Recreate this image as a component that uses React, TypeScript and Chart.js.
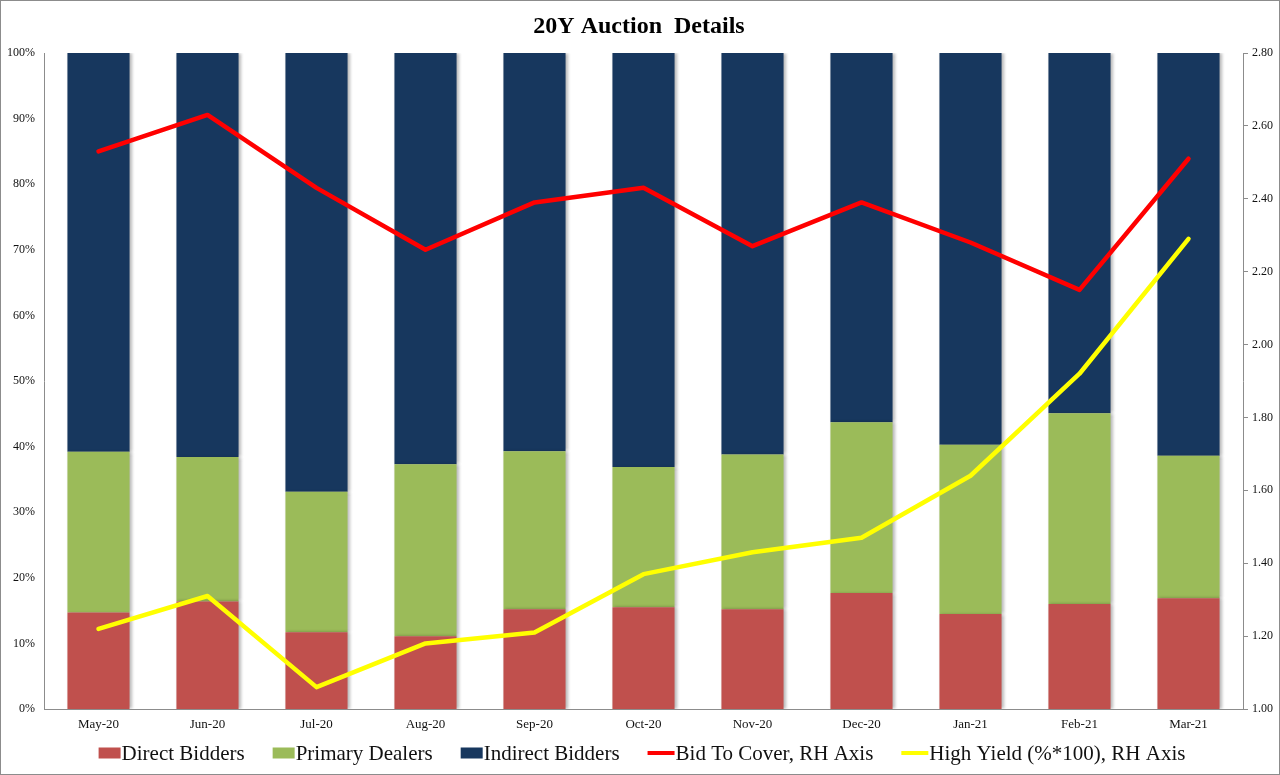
import { useRef, useEffect } from 'react';
import { Chart, registerables } from 'chart.js';

Chart.register(...registerables);

const categories = ['May-20', 'Jun-20', 'Jul-20', 'Aug-20', 'Sep-20', 'Oct-20', 'Nov-20', 'Dec-20', 'Jan-21', 'Feb-21', 'Mar-21'];

// share of the auction, %
const directBidders = [14.7, 16.4, 11.7, 11.1, 15.2, 15.5, 15.2, 17.7, 14.5, 16.0, 16.9];
const primaryDealers = [24.5, 22.0, 21.4, 26.2, 24.1, 21.4, 23.6, 26.0, 25.8, 29.1, 21.7];
const indirectBidders = [60.8, 61.6, 66.9, 62.7, 60.7, 63.1, 61.2, 56.3, 59.7, 54.9, 61.4];

// right hand axis
const bidToCover = [2.53, 2.63, 2.43, 2.26, 2.39, 2.43, 2.27, 2.39, 2.28, 2.15, 2.51];
const highYield = [1.22, 1.31, 1.06, 1.18, 1.21, 1.37, 1.43, 1.47, 1.64, 1.92, 2.29];

const leftTicks = [0, 10, 20, 30, 40, 50, 60, 70, 80, 90, 100];
const rightTicks = [1.0, 1.2, 1.4, 1.6, 1.8, 2.0, 2.2, 2.4, 2.6, 2.8];

const SERIF = '"Liberation Serif", "Times New Roman", serif';

// title, frame and the bottom legend are drawn by hand so they sit like the Excel original
const decorPlugin = {
  id: 'decor',
  beforeDatasetDraw(chart: any, args: any) {
    if (args.meta.type !== 'bar') return;
    const ctx = chart.ctx;
    ctx.save();
    ctx.shadowColor = 'rgba(0,0,0,0.28)';
    ctx.shadowOffsetX = 2;
    ctx.shadowOffsetY = 0;
    ctx.shadowBlur = 3;
  },
  afterDatasetDraw(chart: any, args: any) {
    if (args.meta.type !== 'bar') return;
    chart.ctx.restore();
  },
  afterDraw(chart: any) {
    const ctx = chart.ctx;
    const w = chart.width;
    const h = chart.height;
    ctx.save();

    ctx.strokeStyle = '#8c8c8c';
    ctx.lineWidth = 1;
    ctx.strokeRect(0.5, 0.5, w - 1, h - 1);

    ctx.fillStyle = '#000';
    ctx.font = `bold 24px ${SERIF}`;
    ctx.textAlign = 'center';
    ctx.textBaseline = 'alphabetic';
    ctx.fillText('20Y Auction  Details', 639, 33);

    // legend
    ctx.font = `21px ${SERIF}`;
    ctx.textAlign = 'left';
    ctx.textBaseline = 'middle';
    const items = chart.data.datasets.map((ds: any) => ({
      label: ds.label,
      color: ds.type === 'line' ? ds.borderColor : ds.backgroundColor,
      isLine: ds.type === 'line',
    }));
    const markW = (it: any) => (it.isLine ? 27 : 22);
    const gapText = 1;
    const gapItem = 28;
    let total = 0;
    items.forEach((it: any, k: number) => {
      total += markW(it) + gapText + ctx.measureText(it.label).width;
      if (k < items.length - 1) total += gapItem;
    });
    let x = 642 - total / 2;
    const y = 753;
    items.forEach((it: any) => {
      const mw = markW(it);
      if (it.isLine) {
        ctx.strokeStyle = it.color;
        ctx.lineWidth = 4;
        ctx.beginPath();
        ctx.moveTo(x, y);
        ctx.lineTo(x + mw, y);
        ctx.stroke();
      } else {
        ctx.fillStyle = it.color;
        ctx.fillRect(x, y - 5.5, mw, 11);
      }
      x += mw + gapText;
      ctx.fillStyle = '#111';
      ctx.fillText(it.label, x, y + 1);
      x += ctx.measureText(it.label).width + gapItem;
    });
    ctx.restore();
  },
};

function AuctionChart() {
  const canvasRef = useRef<HTMLCanvasElement | null>(null);
  const chartRef = useRef<Chart | null>(null);

  useEffect(() => {
    document.body.style.margin = '0';
    if (chartRef.current) {
      chartRef.current.destroy();
    }
    if (!canvasRef.current) return;

    chartRef.current = new Chart(canvasRef.current, {
      type: 'bar',
      data: {
        labels: categories,
        datasets: [
          {
            type: 'bar',
            label: 'Direct Bidders',
            data: directBidders,
            backgroundColor: '#C0504D',
            yAxisID: 'y',
            order: 2,
            barPercentage: 0.57,
            categoryPercentage: 1,
          },
          {
            type: 'bar',
            label: 'Primary Dealers',
            data: primaryDealers,
            backgroundColor: '#9BBB59',
            yAxisID: 'y',
            order: 2,
            barPercentage: 0.57,
            categoryPercentage: 1,
          },
          {
            type: 'bar',
            label: 'Indirect Bidders',
            data: indirectBidders,
            backgroundColor: '#17375E',
            yAxisID: 'y',
            order: 2,
            barPercentage: 0.57,
            categoryPercentage: 1,
          },
          {
            type: 'line',
            label: 'Bid To Cover, RH Axis',
            data: bidToCover,
            borderColor: '#FF0000',
            backgroundColor: '#FF0000',
            borderWidth: 4.5,
            pointRadius: 0,
            borderCapStyle: 'round',
            borderJoinStyle: 'round',
            tension: 0,
            yAxisID: 'y1',
            order: 0,
          },
          {
            type: 'line',
            label: 'High Yield (%*100), RH Axis',
            data: highYield,
            borderColor: '#FFFF00',
            backgroundColor: '#FFFF00',
            borderWidth: 4.5,
            pointRadius: 0,
            borderCapStyle: 'round',
            borderJoinStyle: 'round',
            tension: 0,
            yAxisID: 'y1',
            order: 1,
          },
        ] as any,
      },
      options: {
        animation: false,
        responsive: true,
        maintainAspectRatio: false,
        layout: { padding: { top: 53, bottom: 36, left: 0, right: 0 } },
        plugins: {
          legend: { display: false },
          title: { display: false },
          tooltip: { enabled: false },
        },
        scales: {
          x: {
            stacked: true,
            grid: { display: false, drawTicks: false },
            border: { display: true, color: '#8c8c8c', width: 1 },
            ticks: {
              color: '#111',
              padding: 8,
              font: { family: SERIF, size: 13 },
              maxRotation: 0,
            },
            afterFit: (s: any) => {
              s.height = 30;
            },
          },
          y: {
            stacked: true,
            position: 'left',
            min: 0,
            max: 100,
            afterBuildTicks: (s: any) => {
              s.ticks = leftTicks.map((v) => ({ value: v }));
            },
            grid: { display: false, drawTicks: false },
            border: { display: true, color: '#8c8c8c', width: 1 },
            ticks: {
              color: '#111',
              padding: 9,
              font: { family: SERIF, size: 12 },
              callback: (v: any) => `${v}%`,
            },
            afterFit: (s: any) => {
              s.width = 44;
            },
          },
          y1: {
            position: 'right',
            min: 1,
            max: 2.8,
            afterBuildTicks: (s: any) => {
              s.ticks = rightTicks.map((v) => ({ value: v }));
            },
            grid: {
              display: true,
              drawOnChartArea: false,
              drawTicks: true,
              tickLength: 5,
              color: '#8c8c8c',
            },
            border: { display: true, color: '#8c8c8c', width: 1 },
            ticks: {
              color: '#111',
              padding: 4,
              font: { family: SERIF, size: 12 },
              callback: (v: any) => Number(v).toFixed(2),
            },
            afterFit: (s: any) => {
              s.width = 37;
            },
          },
        },
      },
      plugins: [decorPlugin],
    });

    return () => {
      if (chartRef.current) {
        chartRef.current.destroy();
        chartRef.current = null;
      }
    };
  }, []);

  return (
    <div style={{ position: 'relative', width: 1280, height: 775, background: '#fff' }}>
      <canvas ref={canvasRef}></canvas>
    </div>
  );
}

export default function App() {
  return <AuctionChart />;
}
